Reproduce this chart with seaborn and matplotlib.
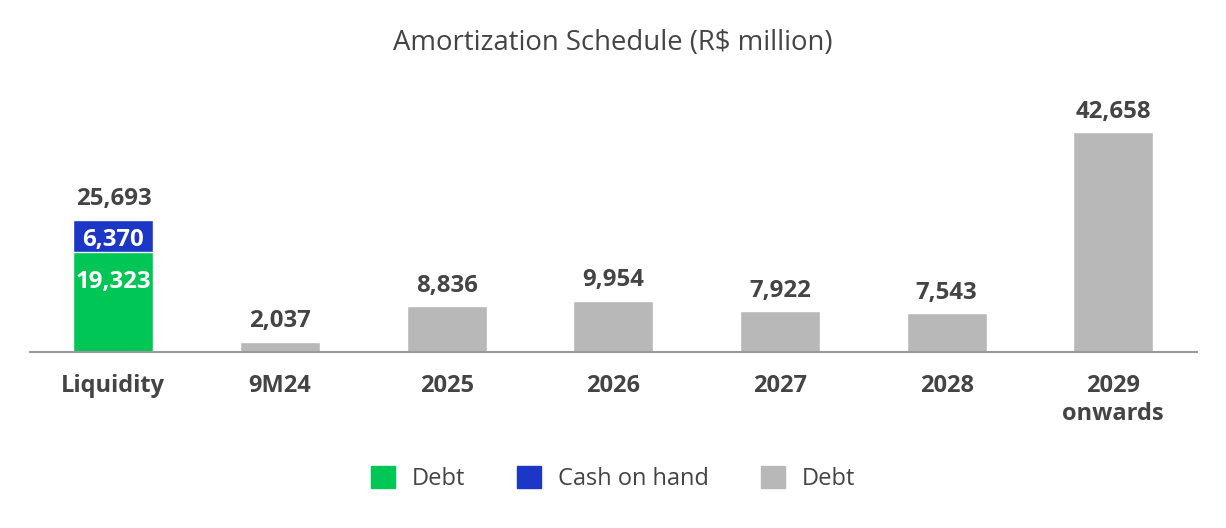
import pandas as pd
import matplotlib.pyplot as plt
import seaborn as sns
from matplotlib.patches import Patch

categories = ['Liquidity', '9M24', '2025', '2026', '2027', '2028', '2029\nonwards']
debt_due = [None, 2037, 8836, 9954, 7922, 7543, 42658]
liquidity_debt = 19323
liquidity_cash = 6370

GREEN = '#00C655'
BLUE = '#1C36C6'
GRAY = '#B8B8B8'
TEXT = '#444444'

sns.set_theme(style='white')
plt.rcParams['font.family'] = ['Open Sans', 'DejaVu Sans']

# full height of each column (liquidity = debt + cash)
totals = [liquidity_debt + liquidity_cash] + debt_due[1:]
df = pd.DataFrame({'category': categories, 'total': totals})
df_green = pd.DataFrame({'category': categories,
                         'value': [liquidity_debt] + [0] * (len(categories) - 1)})

fig = plt.figure(figsize=(12.26, 5.28), dpi=100)
ax = fig.add_axes([0.0245, 0.3333, 0.9515, 0.5147])

palette = [BLUE] + [GRAY] * (len(categories) - 1)
sns.barplot(data=df, x='category', y='total', hue='category', palette=palette,
            order=categories, width=0.48, saturation=1, legend=False, ax=ax)
sns.barplot(data=df_green, x='category', y='value', color=GREEN, order=categories,
            width=0.48, saturation=1, ax=ax)

ax.set_ylim(0, 52700)
ax.set_xlim(-0.5, len(categories) - 0.5)

# value labels above columns
for i, t in enumerate(totals):
    ax.annotate(f'{t:,}', (i, t), xytext=(0, 6), textcoords='offset points',
                ha='center', va='bottom', fontsize=17.3, fontweight='bold', color=TEXT)

# labels inside stacked liquidity bar
ax.annotate(f'{liquidity_cash:,}', (0, liquidity_debt + liquidity_cash), xytext=(0, -15),
            textcoords='offset points', ha='center', va='center',
            fontsize=17.3, fontweight='bold', color='white')
ax.annotate(f'{liquidity_debt:,}', (0, liquidity_debt), xytext=(0, -21),
            textcoords='offset points', ha='center', va='center',
            fontsize=17.3, fontweight='bold', color='white')

ax.set_xlabel('')
ax.set_ylabel('')
ax.set_yticks([])
ax.tick_params(axis='x', length=0, pad=16)
for lbl in ax.get_xticklabels():
    lbl.set_fontsize(17)
    lbl.set_fontweight('bold')
    lbl.set_color(TEXT)
    lbl.set_linespacing(1.2)

for side in ['top', 'left', 'right']:
    ax.spines[side].set_visible(False)
ax.spines['bottom'].set_color('#999999')
ax.spines['bottom'].set_linewidth(1.5)

fig.text(0.4995, 0.918, 'Amortization Schedule (R$ million)', ha='center', va='center',
         fontsize=19.8, color=TEXT)

handles = [Patch(color=GREEN, label='Debt'),
           Patch(color=BLUE, label='Cash on hand'),
           Patch(color=GRAY, label='Debt')]
fig.legend(handles=handles, loc='center', bbox_to_anchor=(0.5, 0.093), ncol=3,
           frameon=False, fontsize=17, labelcolor=TEXT, handlelength=1.02,
           handleheight=1.02, columnspacing=2.2, handletextpad=0.72)

plt.savefig('out.png', dpi=100)
plt.close()
